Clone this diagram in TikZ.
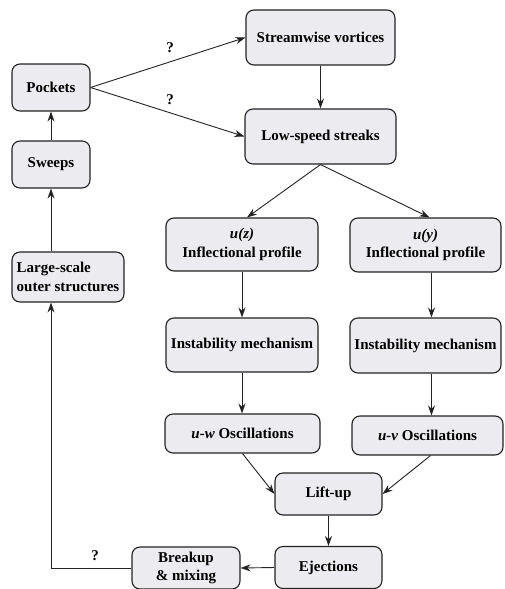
\documentclass[tikz,border=0pt]{standalone}
\usepackage{fontspec}
\setmainfont{Liberation Serif}
\usetikzlibrary{arrows.meta,calc}
\definecolor{boxfill}{HTML}{ECECF0}
\definecolor{edge}{HTML}{222222}
\tikzset{
  box/.style={draw=edge, line width=1.1pt, rounded corners=8pt, fill=boxfill,
    align=center, font=\fontsize{15}{18.5}\selectfont\bfseries, inner sep=0pt},
  arr/.style={draw=edge, line width=0.9pt, -{Stealth[length=10pt,width=7pt]}},
  qm/.style={font=\fontsize{15}{18}\selectfont\bfseries}
}
\begin{document}
\begin{tikzpicture}[x=1pt,y=-1pt]
\useasboundingbox (0,0) rectangle (504,589);
\clip (0,0) rectangle (504,589);
\node[box, minimum width=149pt, minimum height=55pt] (stream) at (320.5,37.5) {Streamwise vortices};
\node[box, minimum width=151pt, minimum height=55pt] (low) at (320.5,136.5) {Low-speed streaks};
\node[box, minimum width=78pt, minimum height=47pt] (pockets) at (51,87.5) {Pockets};
\node[box, minimum width=78pt, minimum height=47pt] (sweeps) at (51,164.5) {Sweeps};
\node[box, minimum width=112pt, minimum height=50pt, align=left] (large) at (68,277) {Large-scale\\outer structures};
\node[box, minimum width=152pt, minimum height=53pt] (uz) at (242,244.5) {\textit{u(z)}\\Inflectional profile};
\node[box, minimum width=151pt, minimum height=54pt] (uy) at (425.5,245) {\textit{u(y)}\\Inflectional profile};
\node[box, minimum width=152pt, minimum height=54pt] (instL) at (242,345) {Instability mechanism};
\node[box, minimum width=151pt, minimum height=55pt] (instR) at (425.5,345.5) {Instability mechanism};
\node[box, minimum width=155pt, minimum height=39pt] (uw) at (242.5,433.5) {\textit{u-w} Oscillations};
\node[box, minimum width=151pt, minimum height=39pt] (uv) at (427.5,435.5) {\textit{u-v} Oscillations};
\node[box, minimum width=107pt, minimum height=42pt] (lift) at (328.5,494) {Lift-up};
\node[box, minimum width=107pt, minimum height=42pt] (eject) at (328.5,567.5) {Ejections};
\node[box, minimum width=108pt, minimum height=42pt] (breakup) at (186,568) {Breakup\\\& mixing};

\draw[arr] (pockets.east) -- (stream.west);
\draw[arr] (pockets.east) -- (low.west);
\node[qm] (q1) at (170,48) {?};
\node[qm] (q2) at (170,100) {?};
\draw[arr] (stream.south) -- (low.north);
\draw[arr] (low.south) -- ($(uz.north)+(5,0)$);
\draw[arr] (low.south) -- ($(uy.north)+(4,0)$);
\draw[arr] (uz.south) -- (instL.north);
\draw[arr] ($(uy.south)+(6,0)$) -- ($(instR.north)+(6,0)$);
\draw[arr] (instL.south) -- (uw.north -| instL.south);
\draw[arr] ($(instR.south)+(6,0)$) -- ($(uv.north)+(4,0)$);
\draw[arr] (uw.south) -- (lift.west);
\draw[arr] ($(uv.south)+(3,0)$) -- (lift.east);
\draw[arr] (lift.south) -- (eject.north);
\draw[arr] (eject.west) -- (breakup.east);
\coordinate (corner) at (sweeps.south |- breakup.west);
\draw[arr] (breakup.west) -- (corner) -- (sweeps.south |- large.south);
\node[qm] (q3) at (95,556) {?};
\draw[arr] (sweeps.south |- large.north) -- (sweeps.south);
\draw[arr] (sweeps.north) -- (pockets.south);
\end{tikzpicture}
\end{document}
